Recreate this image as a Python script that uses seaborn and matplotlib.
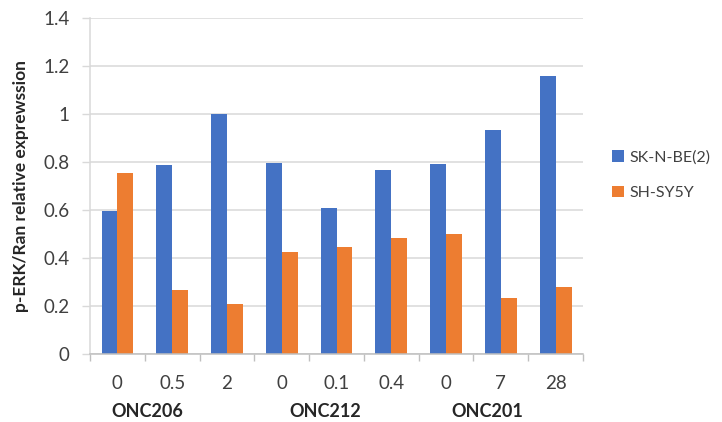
import matplotlib
matplotlib.use("Agg")
import matplotlib.pyplot as plt
from matplotlib.ticker import FixedLocator
import seaborn as sns
import pandas as pd

# Treatment groups and doses along the x axis
drugs = ["ONC206", "ONC206", "ONC206",
         "ONC212", "ONC212", "ONC212",
         "ONC201", "ONC201", "ONC201"]
doses = ["0", "0.5", "2", "0", "0.1", "0.4", "0", "7", "28"]

# p-ERK/Ran relative expression per cell line
sk_n_be2 = [0.595, 0.789, 1.00, 0.797, 0.609, 0.768, 0.791, 0.932, 1.157]
sh_sy5y = [0.755, 0.267, 0.210, 0.423, 0.444, 0.483, 0.499, 0.234, 0.281]

series_names = ["SK-N-BE(2)", "SH-SY5Y"]
colors = ["#4472C4", "#ED7D31"]

y_ticks = [0, 0.2, 0.4, 0.6, 0.8, 1.0, 1.2, 1.4]
y_tick_labels = ["0", "0.2", "0.4", "0.6", "0.8", "1", "1.2", "1.4"]

conditions = [f"{d} {x}" for d, x in zip(drugs, doses)]
df = pd.DataFrame({
    "condition": conditions * 2,
    "value": sk_n_be2 + sh_sy5y,
    "line": [series_names[0]] * len(conditions) + [series_names[1]] * len(conditions),
})

sns.set_theme(style="white")
plt.rcParams["font.family"] = ["Lato", "DejaVu Sans"]

fig = plt.figure(figsize=(7.22, 4.22), dpi=100)
ax = fig.add_axes([0.1247, 0.1611, 0.6828, 0.7962])

sns.barplot(data=df, x="condition", y="value", hue="line", order=conditions,
            hue_order=series_names, palette=colors, width=0.58,
            saturation=1, linewidth=0, ax=ax, legend=True)

ax.set_ylim(0, 1.4)
ax.set_xlim(-0.5, len(conditions) - 0.5)
ax.set_yticks(y_ticks)
ax.set_yticklabels(y_tick_labels)
ax.yaxis.grid(True, color="#D9D9D9", linewidth=1.1)
ax.set_axisbelow(True)

# dose labels at bar centres, tick marks on category boundaries
ax.set_xticks(range(len(conditions)))
ax.set_xticklabels(doses)
ax.xaxis.set_minor_locator(FixedLocator([i - 0.5 for i in range(len(conditions) + 1)]))
ax.tick_params(axis="x", which="major", length=0, pad=15, labelsize=13.5, colors="#404040")
ax.tick_params(axis="x", which="minor", bottom=True, length=5, width=1, color="#BFBFBF")
ax.tick_params(axis="y", which="major", left=True, length=6, width=1, color="#D9D9D9",
               pad=9, labelsize=13.5, labelcolor="#404040")

for side in ["top", "right"]:
    ax.spines[side].set_visible(False)
ax.spines["left"].set_color("#D9D9D9")
ax.spines["bottom"].set_color("#BFBFBF")
ax.spines["left"].set_linewidth(1.1)
ax.spines["bottom"].set_linewidth(1.1)

ax.set_xlabel("")
ax.set_ylabel("p-ERK/Ran relative exprewssion", fontsize=12.5, fontweight="bold",
              color="#262626", labelpad=10)

# drug names beneath the dose labels
for name, xpos in [("ONC206", 0.55), ("ONC212", 3.8), ("ONC201", 6.75)]:
    ax.text(xpos, -0.17, name, transform=ax.get_xaxis_transform(), ha="center",
            va="center", fontsize=13, fontweight="bold", color="#262626")

handles, labels = ax.get_legend_handles_labels()
ax.get_legend().remove()
fig.legend(handles, labels, loc="center left", bbox_to_anchor=(0.847, 0.585),
           frameon=False, fontsize=11.5, handlelength=0.75, handleheight=0.75,
           handletextpad=0.35, labelspacing=1.3, borderaxespad=0,
           borderpad=0, labelcolor="#404040")

fig.savefig("out.png", dpi=100)
